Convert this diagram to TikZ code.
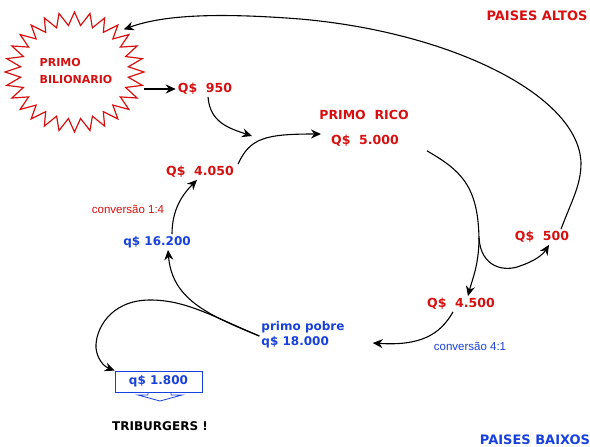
\documentclass[tikz,border=0pt]{standalone}
\usepackage{fontspec}
\usepackage{tikz}
\usetikzlibrary{calc,positioning,arrows.meta,shapes}
\newfontfamily\titulo{DejaVu Sans}
\newfontfamily\comic{DejaVu Sans}
\newfontfamily\arial{Liberation Sans}
\definecolor{vermelho}{RGB}{214,16,16}
\definecolor{azul}{RGB}{24,64,220}

\begin{document}
\begin{tikzpicture}[x=1pt, y=-1pt]
\tikzstyle{every node}=[inner sep=2pt]
\tikzstyle{rico}=[text=vermelho, font=\titulo\bfseries\fontsize{12.5}{15}\selectfont]
\tikzstyle{pobre}=[text=azul, font=\comic\bfseries\fontsize{12}{15}\selectfont]
\tikzstyle{nota}=[font=\arial\fontsize{11.5}{14}\selectfont]
\tikzstyle{seta}=[draw=black, line width=1.1pt, -{Stealth[length=10pt, width=9pt]}]
\useasboundingbox (0,0) rectangle (590,447);

% paises altos
\node[rico, font=\titulo\bfseries\fontsize{13}{15}\selectfont] (altos) at (537,16) {PAISES ALTOS};
\node[ellipse, minimum width=139, minimum height=120] (bilio) at (74.5,72) {};
\draw[vermelho, line width=1.2pt] (bilio.center) +(90:69.5 and 60)
  \foreach \i [evaluate=\i as \r using {mod(\i,2)==0 ? 1 : 0.78}] in {1,...,55}
  { -- +({90+\i*6.4286}:{\r*69.5} and {\r*60}) } -- cycle;
\node[rico, font=\titulo\bfseries\fontsize{11}{17}\selectfont, align=left] (biliotxt) at (76,71) {PRIMO\\BILIONARIO};
\node[rico] (q950) at (205,89) {Q\$\ \ 950};
\node[rico] (primorico) at (364,115) {PRIMO\ \ RICO};
\node[rico] (q5000) at (365,141) {Q\$\ \ 5.000};
\node[rico] (q4050) at (200,172) {Q\$\ \ 4.050};
\node[rico] (q500) at (542,237) {Q\$\ \ 500};
\node[rico] (q4500) at (461,304) {Q\$\ \ 4.500};
\node[nota, text=vermelho] (conv14) at (128,209) {conversão 1:4};

% paises baixos
\node[pobre] (q16200) at (157,242) {q\$ 16.200};
\node[pobre, align=left] (primopobre) at (303,335) {primo pobre\\q\$ 18.000};
\node[nota, text=azul] (conv41) at (470,346) {conversão 4:1};
\node[pobre, draw=azul, thick, minimum width=87, minimum height=21, inner sep=0pt] (q1800) at (158.5,381.5) {q\$ 1.800};
\draw[azul, thick] (148,392) -- (148,395) -- (138,395) -- (160,401) -- (182,395) -- (171,395) -- (171,392);
\node[font=\titulo\bfseries\fontsize{12}{15}\selectfont] (tri) at (160,426) {TRIBURGERS !};
\node[pobre, font=\titulo\bfseries\fontsize{13}{15}\selectfont] (baixos) at (535,440) {PAISES BAIXOS};

\coordinate (junta) at (252,136);
\coordinate (divide) at (479,238);

\draw[seta] (bilio.east |- q950) -- (q950.west);
\draw[seta] ([xshift=3pt]q950.south) .. controls (210,122) and (228,128) .. (junta);
\draw[seta] ([xshift=38pt]q4050.north) .. controls (250,138) and (265,134) .. ([xshift=-8pt,yshift=7pt]q5000.west);
\draw[seta] ([xshift=15pt]q16200.north) .. controls (172,210) and (182,195) .. ([xshift=-3pt]q4050.south);
\draw[seta, -] ([xshift=62pt,yshift=-2pt]q5000.south) .. controls (460,170) and (478,185) .. (divide);
\draw[seta] (divide) .. controls (479,265) and (472,280) .. ([xshift=7pt]q4500.north);
\draw[seta] (divide) .. controls (481,268) and (505,272) .. (520,266) .. controls (532,262) and (542,256) .. ([xshift=7pt]q500.south);
\draw[seta] ([xshift=19pt]q500.north) .. controls (572,200) and (581,185) .. (581,163)
  .. controls (579,95) and (450,32) .. (300,19) .. controls (210,12) and (160,16) .. (bilio.north east);
\draw[seta] ([xshift=-8pt]q4500.south) .. controls (440,335) and (420,346) .. ([xshift=26pt,yshift=-8pt]primopobre.east);
\draw[seta] ([yshift=-1pt]primopobre.west) .. controls (205,314) and (172,298) .. ([xshift=11pt]q16200.south);
\draw[seta] ([yshift=-1pt]primopobre.west) .. controls (210,315) and (185,300) .. (150,300)
  .. controls (110,300) and (95,330) .. (96,348) .. controls (97,358) and (103,366) .. (q1800.north west);
\end{tikzpicture}
\end{document}
